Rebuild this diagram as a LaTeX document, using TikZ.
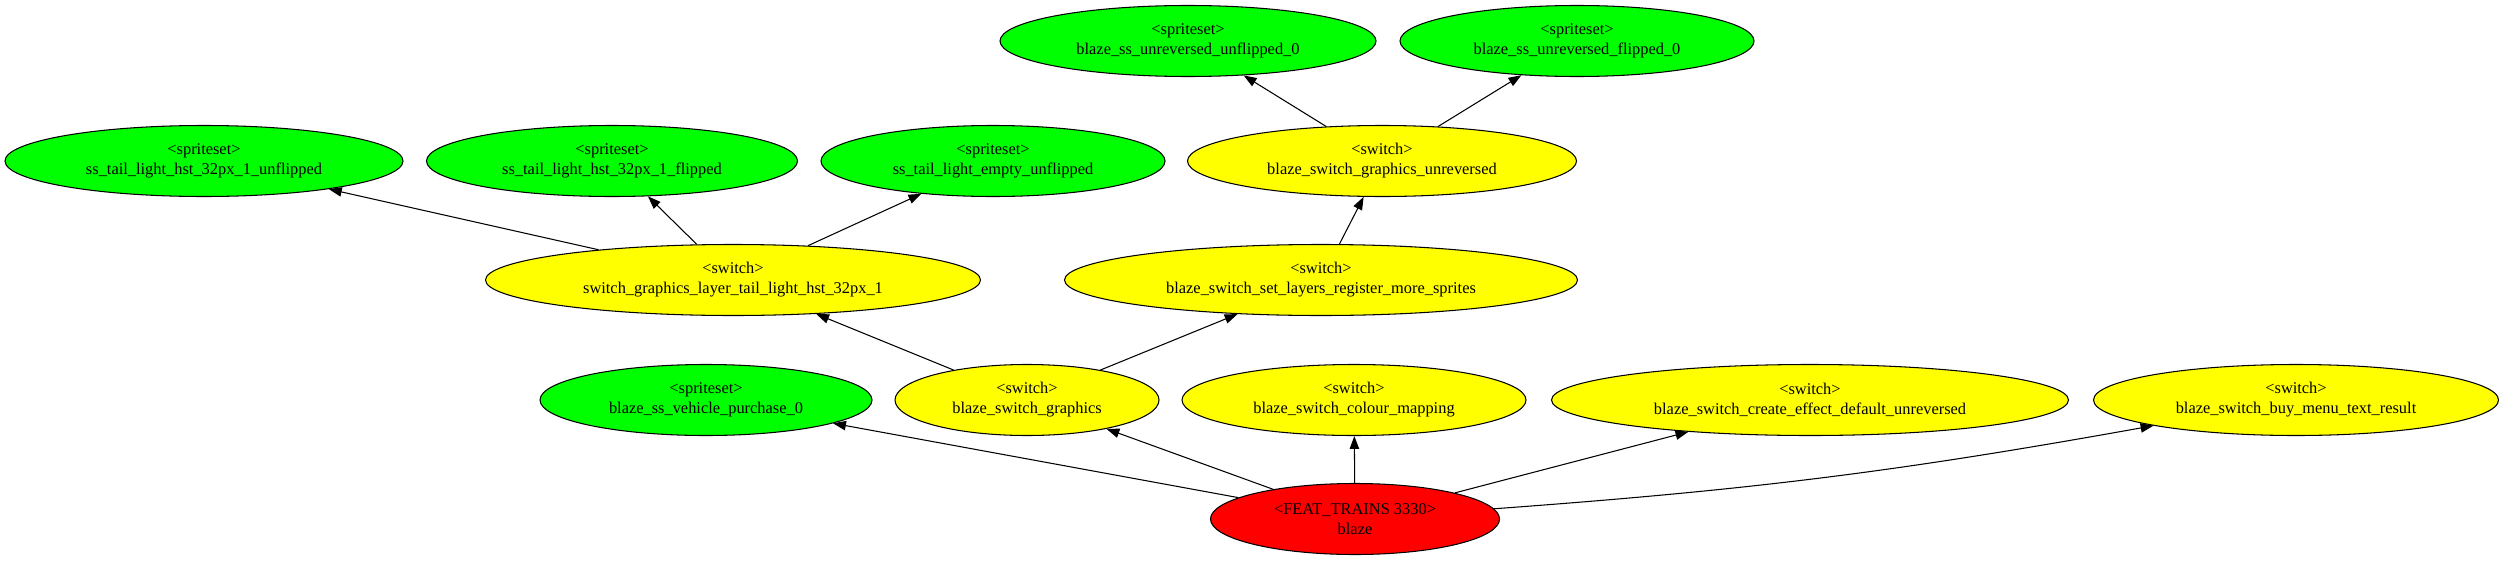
\documentclass[tikz,border=0pt]{standalone}
\usepackage{fontspec}
\setmainfont{Liberation Serif}
\usetikzlibrary{shapes.geometric,arrows.meta}
\begin{document}
\begin{tikzpicture}[x=0.03cm, y=-0.03cm, line width=0.9pt,
				main/.style = {draw, ellipse, inner sep=0pt, minimum height=2.13cm, align=center, font=\fontsize{14}{17}\selectfont},
				sprite/.style = {main, fill={rgb,255:red,0;green,255;blue,0}},
				sw/.style = {main, fill={rgb,255:red,255;green,255;blue,0}},
				feat/.style = {main, fill={rgb,255:red,255;green,0;blue,0}},
				edge/.style = {-{Triangle[length=11pt,width=8pt]}}]
				\useasboundingbox (0,0) rectangle (2503,561);
				
				\node[sprite, minimum width=11.28cm] (uu) at (1188,41) {<spriteset>\\blaze\_ss\_unreversed\_unflipped\_0};
				\node[sprite, minimum width=10.62cm] (uf) at (1577,41) {<spriteset>\\blaze\_ss\_unreversed\_flipped\_0};
				
				\node[sprite, minimum width=11.94cm] (tu) at (204,161) {<spriteset>\\ss\_tail\_light\_hst\_32px\_1\_unflipped};
				\node[sprite, minimum width=11.13cm] (tf) at (612,161) {<spriteset>\\ss\_tail\_light\_hst\_32px\_1\_flipped};
				\node[sprite, minimum width=10.32cm] (te) at (993,161) {<spriteset>\\ss\_tail\_light\_empty\_unflipped};
				\node[sw, minimum width=11.67cm] (gu) at (1382,161) {<switch>\\blaze\_switch\_graphics\_unreversed};
				
				\node[sw, minimum width=14.85cm] (lt) at (733,280) {<switch>\\switch\_graphics\_layer\_tail\_light\_hst\_32px\_1};
				\node[sw, minimum width=15.39cm] (sl) at (1321,280) {<switch>\\blaze\_switch\_set\_layers\_register\_more\_sprites};
				
				\node[sprite, minimum width=9.96cm] (vp) at (706,400) {<spriteset>\\blaze\_ss\_vehicle\_purchase\_0};
				\node[sw, minimum width=7.92cm] (g) at (1027,400) {<switch>\\blaze\_switch\_graphics};
				\node[sw, minimum width=10.32cm] (cm) at (1354,400) {<switch>\\blaze\_switch\_colour\_mapping};
				\node[sw, minimum width=15.51cm] (ce) at (1810,400) {<switch>\\blaze\_switch\_create\_effect\_default\_unreversed};
				\node[sw, minimum width=12.15cm] (bm) at (2296,400) {<switch>\\blaze\_switch\_buy\_menu\_text\_result};
				
				\node[feat, minimum width=8.67cm] (f) at (1355,519) {<FEAT\_TRAINS 3330>\\blaze};
				
				\draw[edge] (f) to (vp);
				\draw[edge] (f) to (g);
				\draw[edge] (f) to (cm);
				\draw[edge] (f) to (ce);
				\draw[edge] (f) to[bend right=3] (bm);
				\draw[edge] (g) to (lt);
				\draw[edge] (g) to (sl);
				\draw[edge] (lt) to (tu);
				\draw[edge] (lt) to (tf);
				\draw[edge] (lt) to (te);
				\draw[edge] (sl) to (gu);
				\draw[edge] (gu) to (uu);
				\draw[edge] (gu) to (uf);
			\end{tikzpicture}
\end{document}
